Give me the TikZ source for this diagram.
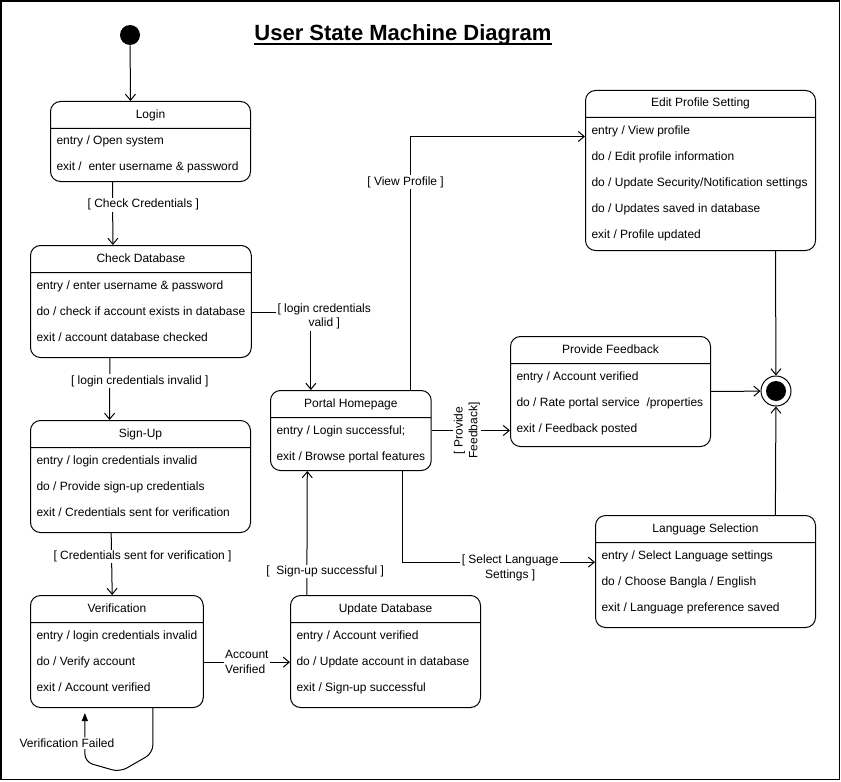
\documentclass[tikz,border=0pt]{standalone}
\usepackage{fontspec}
\setmainfont{Liberation Sans}
\usetikzlibrary{shapes.multipart, arrows.meta}
\tikzstyle{state} = [rectangle split, rectangle split parts=2, draw, rounded corners=7.5pt, anchor=north west, rectangle split part align={center,left}, align=left, inner xsep=4.5pt, inner ysep=0pt, font=\fontsize{9}{19.5}\selectfont]
\tikzstyle{trans} = [-{Straight Barb[length=4.5pt,width=7.5pt]}]
\tikzstyle{fail} = [-{Triangle[length=6pt,width=4.5pt]}, rounded corners=6pt, shorten >=3.75pt]
\tikzstyle{guard} = [fill=white, inner sep=1pt, align=center, font=\fontsize{9}{11}\selectfont]
\tikzstyle{initial} = [circle, fill=black, minimum size=15pt, inner sep=0pt]
\tikzstyle{final} = [circle, draw, minimum size=22.5pt, inner sep=0pt, path picture={\fill (path picture bounding box.center) circle (7.5pt);}]
\newcommand{\rowstrut}{\rule[-7.5pt]{0pt}{19.5pt}}
\newcommand{\rowpad}[1]{\rule[-#1]{0pt}{#1}}

\begin{document}
\begin{tikzpicture}[x=0.75pt, y=-0.75pt, line width=0.75pt]
  \useasboundingbox (0,0) rectangle (841,781);
  \draw[line width=1pt] (1,1) rectangle (839.5,779.5);

  % title
  \node[anchor=base, inner sep=0pt, font=\fontsize{16.5}{20}\selectfont\bfseries] (title) at (403,41) {User State Machine Diagram\ };
  \draw[line width=1.5pt] ([yshift=-2.2pt]title.base west) -- ([yshift=-2.2pt]title.base east);

  % start / end
  \node[initial] (init) at (130,35) {};
  \node[final] (final) at (776,391) {};

  % left column
  \node[state, minimum width=150pt] (login) at (50,101)
    {\rowstrut Login \nodepart{two}\rowstrut entry / Open system\\exit / \ enter username \& password\rowpad{7.5pt}};
  \node[state, minimum width=165pt] (chk) at (30,245)
    {\rowstrut Check Database \nodepart{two}\rowstrut entry / enter username \& password\\do / check if account exists in database\\exit / account database checked\rowpad{12pt}};
  \node[state, minimum width=165pt] (signup) at (30,420)
    {\rowstrut Sign-Up \nodepart{two}\rowstrut entry / login credentials invalid\\do / Provide sign-up credentials\\exit / Credentials sent for verification\rowpad{12pt}};
  \node[state, minimum width=127.5pt] (verif) at (30,595)
    {\rowstrut Verification \nodepart{two}\rowstrut entry / login credentials invalid\\do / Verify account\\exit / Account verified\rowpad{12pt}};

  % middle
  \node[state, minimum width=142.5pt] (update) at (290,595)
    {\rowstrut Update Database \nodepart{two}\rowstrut entry / Account verified\\do / Update account in database\\exit / Sign-up successful\rowpad{12pt}};
  \node[state, minimum width=120pt] (portal) at (270,390)
    {\rowstrut Portal Homepage \nodepart{two}\rowstrut entry / Login successful;\\exit / Browse portal features\rowpad{7.5pt}};

  % right column
  \node[state, minimum width=172.5pt] (edit) at (585,90)
    {\rowstrut Edit Profile Setting \nodepart{two}\rowstrut entry / View profile\\do / Edit profile information\\do / Update Security/Notification settings\\do / Updates saved in database\\exit / Profile updated\rowpad{9pt}};
  \node[state, minimum width=150pt] (feedback) at (510,336)
    {\rowstrut Provide Feedback \nodepart{two}\rowstrut entry / Account verified\\do / Rate portal service \ /properties\\exit / Feedback posted\rowpad{10.5pt}};
  \node[state, minimum width=165pt] (lang) at (595,515)
    {\rowstrut Language Selection \nodepart{two}\rowstrut entry / Select Language settings\\do / Choose Bangla / English\\exit / Language preference saved\rowpad{12pt}};

  % transitions
  \draw[trans] (init) -- ([xshift=-15pt]login.north);
  \draw[trans] ([xshift=-28.5pt]login.south) -- node[guard, pos=0.36, xshift=23pt] (g1) {[ Check Credentials ]} ([xshift=-21pt]chk.north);
  \draw[trans] ([xshift=-23.25pt]chk.south) -- node[guard, pos=0.37, xshift=22.5pt] (g2) {[ login credentials invalid ]} ([xshift=-23.25pt]signup.north);
  \draw[trans] ([yshift=-8pt]chk.east) -| node[guard, pos=0.5, xshift=10pt, yshift=-3.2pt] (g3) {[ login credentials\\valid ]} ([xshift=-30pt]portal.north);
  \draw[trans] ([xshift=-22pt]signup.south) -- node[guard, pos=0.38, xshift=23.25pt] (g4) {[ Credentials sent for verification ]} ([xshift=-3.5pt]verif.north);
  \draw[trans] ([yshift=-8pt]verif.east) -- node[guard, align=left] (g5) {Account\\Verified} ([yshift=-8pt]update.west);
  \draw[trans] ([xshift=-59pt]update.north) -- node[guard, pos=0.19, xshift=13.7pt] (g6) {[ \ Sign-up successful ]} ([xshift=-32.7pt]portal.south);
  \draw[trans] ([xshift=44.8pt]portal.north) |- node[guard, pos=0.41, xshift=-3.75pt] (g7) {[ View Profile ]} ([yshift=25.5pt]edit.west);
  \draw[trans] (portal.east) -- node[guard, rotate=90, pos=0.45] (g8) {[ Provide\\Feedback]} (portal.east -| feedback.west);
  \draw[trans] ([xshift=38.5pt]portal.south) |- node[guard, pos=0.78, yshift=-4.5pt] (g9) {[ Select Language\\Settings ]} ([yshift=7pt]lang.west);
  \draw[trans] ([xshift=56.25pt]edit.south) -- (final);
  \draw[trans] (feedback.east) -- (final);
  \draw[trans] ([xshift=52.4pt]lang.north) -- (final);
  \draw[fail] ([xshift=27pt]verif.south) -- ++(0,45) -- ++(-33,19) -- ++(-35,-10)
    -- node[guard, pos=0.35, xshift=-13.4pt] (g10) {Verification Failed} ([xshift=-24pt]verif.south);
\end{tikzpicture}
\end{document}
